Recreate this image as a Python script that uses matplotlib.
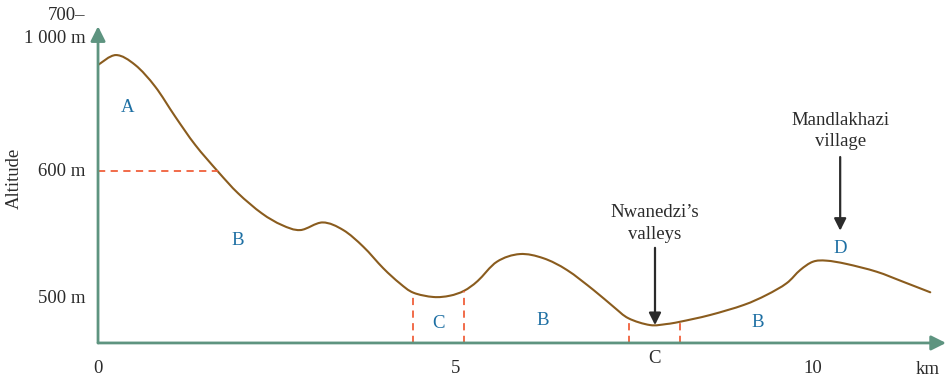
import numpy as np
import matplotlib.pyplot as plt
from matplotlib.path import Path
from matplotlib.patches import PathPatch

# profile: distance (km), altitude (m)
dist_km = [0, 0.25, 0.52, 0.80, 1.08, 1.36, 1.68, 1.96, 2.29, 2.57, 2.83,
           3.14, 3.43, 3.71, 3.99, 4.22, 4.41, 4.69, 4.92, 5.12, 5.31, 5.58,
           5.90, 6.23, 6.56, 6.93, 7.21, 7.42, 7.72, 7.95, 8.14, 8.56, 9.03,
           9.35, 9.63, 9.82, 10.00, 10.19, 10.47, 10.89, 11.26, 11.64]
alt_m = [683.5, 691.3, 683.5, 666.4, 642.8, 620.5, 599.4, 582.4, 566.7, 557.5, 553.5,
         559.5, 553.5, 540.4, 523.4, 511.6, 504.2, 500.8, 501.8, 505.7, 513.4, 528.6,
         534.6, 531.3, 522.0, 506.3, 493.1, 484.0, 478.7, 479.5, 481.3, 486.6, 494.5,
         502.4, 511.6, 522.0, 528.6, 529.4, 526.8, 520.7, 512.8, 504.5]

# zone boundaries (km) and the altitude where they meet the profile
bound_km = [4.41, 5.12, 7.42, 8.14]
bound_alt = [504.2, 505.7, 484.0, 481.3]
line600_end = 1.68

zone_labels = ['A', 'B', 'C', 'B', 'B', 'D']
zone_x = [0.42, 1.96, 4.76, 6.22, 9.23, 10.38]
zone_y = [650, 545, 480, 482, 481, 539]

xticks = [0, 5, 10]
base = 464.6

green = '#5e9480'
brown = '#8a5c1e'
red = '#f0603c'
blue = '#1d6fa3'
dark = '#2b2b2b'


def smooth_path(xs, ys):
    # catmull-rom through the points, drawn as cubic bezier segments
    p = np.column_stack([xs, ys])
    verts = [p[0]]
    codes = [Path.MOVETO]
    n = len(p)
    for i in range(n - 1):
        p0 = p[max(i - 1, 0)]
        p1 = p[i]
        p2 = p[i + 1]
        p3 = p[min(i + 2, n - 1)]
        c1 = p1 + (p2 - p0) / 6
        c2 = p2 - (p3 - p1) / 6
        verts += [c1, c2, p2]
        codes += [Path.CURVE4] * 3
    return Path(verts, codes)


plt.rcParams['font.family'] = ['Liberation Serif', 'DejaVu Serif']

fig = plt.figure(figsize=(9.51, 3.81), dpi=100)
ax = fig.add_axes([0, 0, 1, 1])
ax.set_xlim(-1.371, 11.930)
ax.set_ylim(434.65, 734.65)
ax.axis('off')

# axes with arrows
ax.annotate('', xy=(0, 714), xytext=(0, base),
            arrowprops=dict(arrowstyle='-|>', color=green, lw=2, mutation_scale=22,
                            shrinkA=0, shrinkB=0))
ax.annotate('', xy=(11.86, base), xytext=(0, base),
            arrowprops=dict(arrowstyle='-|>', color=green, lw=2, mutation_scale=22,
                            shrinkA=0, shrinkB=0))

# dashed guides
ax.plot([0, line600_end], [600, 600], color=red, lw=1.3, ls=(0, (4, 3)))
for bx, by in zip(bound_km, bound_alt):
    ax.plot([bx, bx], [base, by], color=red, lw=1.3, ls=(0, (4, 3)))

# profile
ax.add_patch(PathPatch(smooth_path(dist_km, alt_m), facecolor='none',
                       edgecolor=brown, lw=1.5, capstyle='round'))

fs = 13.5
for t, x, y in zip(zone_labels, zone_x, zone_y):
    ax.text(x, y, t, color=blue, fontsize=fs, ha='center', va='center')

ax.text(7.79, 452, 'C', color=dark, fontsize=fs, ha='center', va='center')

for t in xticks:
    ax.text(t, 444.5, str(t), color=dark, fontsize=fs, ha='center', va='center')
ax.text(11.6, 444, 'km', color=dark, fontsize=fs, ha='center', va='center')

ax.text(-0.18, 600, '600 m', color=dark, fontsize=fs, ha='right', va='center')
ax.text(-0.18, 500, '500 m', color=dark, fontsize=fs, ha='right', va='center')
ax.text(-0.18, 722.5, '700–', color=dark, fontsize=fs, ha='right', va='center')
ax.text(-0.18, 704.5, '1 000 m', color=dark, fontsize=fs, ha='right', va='center')
ax.text(-1.175, 594.5, 'Altitude', color=dark, fontsize=fs, ha='center', va='center',
        rotation=90)

# pointers
ax.annotate('', xy=(7.79, 478.7), xytext=(7.79, 539.5),
            arrowprops=dict(arrowstyle='-|>', color=dark, lw=1.6, mutation_scale=18,
                            shrinkA=0, shrinkB=0))
ax.text(7.79, 558.7, "Nwanedzi’s\nvalleys", color=dark, fontsize=fs, ha='center',
        va='center', linespacing=1.35)
ax.annotate('', xy=(10.38, 553), xytext=(10.38, 611),
            arrowprops=dict(arrowstyle='-|>', color=dark, lw=1.6, mutation_scale=18,
                            shrinkA=0, shrinkB=0))
ax.text(10.38, 631.5, "Mandlakhazi\nvillage", color=dark, fontsize=fs, ha='center',
        va='center', linespacing=1.35)

fig.savefig('out.png', dpi=100)
